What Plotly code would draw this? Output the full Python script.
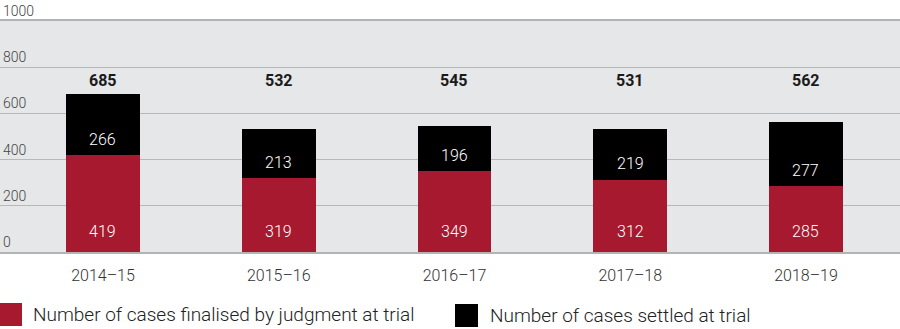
import plotly.graph_objects as go

years = ["2014–15", "2015–16", "2016–17", "2017–18", "2018–19"]
judgment = [419, 319, 349, 312, 285]
settled = [266, 213, 196, 219, 277]
totals = [685, 532, 545, 531, 562]
series_names = ["Number of cases finalised by judgment at trial",
                "Number of cases settled at trial"]
y_ticks = [0, 200, 400, 600, 800, 1000]

RED = "#a6192e"
BLACK = "#000000"
FONT = "Roboto"

W, H = 900, 329
MT, MB = 21, 77
PH = H - MT - MB

fig = go.Figure()
fig.add_trace(go.Bar(x=years, y=judgment, name=series_names[0], marker_color=RED,
                     marker_line_width=0, width=0.42, showlegend=False))
fig.add_trace(go.Bar(x=years, y=settled, name=series_names[1], marker_color=BLACK,
                     marker_line_width=0, width=0.42, showlegend=False))

ann = []
for yr, j, s, t in zip(years, judgment, settled, totals):
    ann.append(dict(x=yr, y=0, text=str(j), showarrow=False, yanchor="middle",
                    yshift=21, font=dict(family=FONT, size=16, color="white", weight=300)))
    ann.append(dict(x=yr, y=j, text=str(s), showarrow=False, yanchor="middle",
                    yshift=16, font=dict(family=FONT, size=16, color="white", weight=300)))
    ann.append(dict(x=yr, y=745, text="<b>%d</b>" % t, showarrow=False, yanchor="middle",
                    yshift=-1, font=dict(family=FONT, size=16, color="#1a1a1a")))

def py(px):
    return (MT + PH - px) / PH

shapes = []
leg = [(0, 22, 303, 326, RED, 31, series_names[0]),
       (455, 478, 304, 327, BLACK, 488, series_names[1])]
for x0, x1, y0, y1, c, tx, name in leg:
    shapes.append(dict(type="rect", xref="paper", yref="paper", x0=x0 / W, x1=x1 / W,
                       y0=py(y1), y1=py(y0), fillcolor=c, line_width=0))
    ann.append(dict(xref="paper", yref="paper", x=tx / W, y=py((y0 + y1) / 2), text=name,
                    showarrow=False, xanchor="left", yanchor="middle",
                    font=dict(family=FONT, size=19, color="#222222", weight=300)))

fig.update_layout(
    width=W, height=H,
    margin=dict(l=0, r=0, t=MT, b=MB),
    paper_bgcolor="white", plot_bgcolor="#e6e7e8",
    barmode="stack", bargap=0,
    annotations=ann, shapes=shapes,
    font=dict(family=FONT),
    xaxis=dict(range=[-0.586, 4.535], showgrid=False, showline=True, linecolor="#b3b3b3",
               linewidth=2, mirror=True, ticks="outside", ticklen=8, tickcolor="rgba(0,0,0,0)",
               tickfont=dict(family=FONT, size=16, color="#333333", weight=300)),
    yaxis=dict(range=[0, 1000], tickvals=y_ticks, ticktext=[str(v) for v in y_ticks],
               showgrid=True, gridcolor="#b8b8b8", gridwidth=1, zeroline=False,
               ticklabelposition="inside", ticklabelshift=-10, ticklabelstandoff=0,
               ticklabeloverflow="allow",
               tickfont=dict(family=FONT, size=14, color="#444444", weight=300)),
)

fig.write_html("out.html")
